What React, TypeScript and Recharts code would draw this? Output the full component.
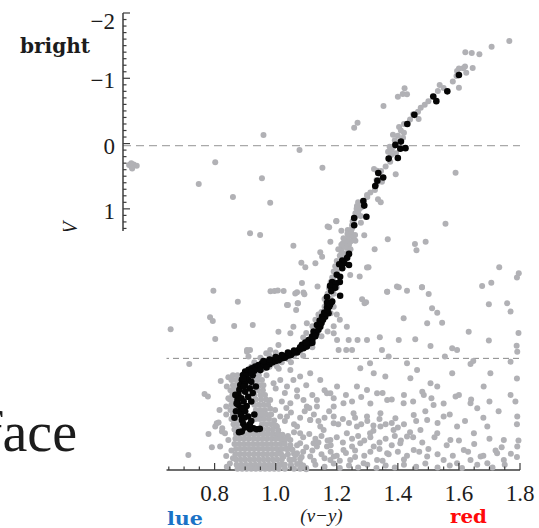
import React from 'react';
import { ScatterChart, Scatter, XAxis, YAxis, ReferenceLine } from 'recharts';

type P = [number, number];

const xTicks = [0.5, 0.55, 0.6, 0.65, 0.7, 0.75, 0.8, 0.85, 0.9, 0.95, 1.0, 1.05, 1.1, 1.15, 1.2, 1.25, 1.3, 1.35, 1.4, 1.45, 1.5, 1.55, 1.6, 1.65, 1.7, 1.75, 1.8];
const yTicks = [
  -2, -1.9, -1.8, -1.7, -1.6, -1.5, -1.4, -1.3, -1.2, -1.1,
  -1, -0.9, -0.8, -0.7, -0.6, -0.5, -0.4, -0.3, -0.2, -0.1,
  0, 0.1, 0.2, 0.3, 0.4, 0.5, 0.6, 0.7, 0.8, 0.9,
  1, 1.1, 1.2, 1.3, 1.4, 1.5, 1.6, 1.7, 1.8, 1.9,
  2, 2.1, 2.2, 2.3, 2.4, 2.5, 2.6, 2.7, 2.8, 2.9,
  3, 3.1, 3.2, 3.3, 3.4, 3.5, 3.6, 3.7, 3.8, 3.9,
  4, 4.1, 4.2, 4.3, 4.4, 4.5, 4.6, 4.7, 4.8, 4.9, 5,
];
const refLevels = [0.03, 3.29];

const blackGiant: P[] = [
  [1.600, -1.05], [1.562, -0.80], [1.516, -0.72], [1.526, -0.65], [1.454, -0.44], [1.431, -0.30],
  [1.392, 0.02], [1.410, -0.03], [1.408, 0.08], [1.425, 0.07], [1.370, 0.23], [1.400, 0.22],
  [1.336, 0.45], [1.333, 0.57], [1.352, 0.52], [1.326, 0.65], [1.287, 0.88], [1.290, 0.95],
  [1.257, 1.14], [1.297, 1.12], [1.257, 1.25], [1.240, 1.69], [1.234, 1.75], [1.218, 1.79],
  [1.225, 1.83], [1.208, 1.85], [1.240, 1.86], [1.218, 1.91], [1.200, 2.01], [1.211, 2.04],
  [1.185, 2.12], [1.178, 2.18], [1.198, 2.14], [1.210, 2.12], [1.195, 2.21], [1.182, 2.26],
  [1.211, 2.33], [1.168, 2.35], [1.168, 2.44], [1.178, 2.47], [1.185, 2.42],
];

const blackTurnoff: P[] = [
  [1.181, 2.436], [1.168, 2.507], [1.159, 2.590], [1.152, 2.651], [1.144, 2.712], [1.162, 2.651],
  [1.173, 2.599], [1.135, 2.778], [1.146, 2.804], [1.124, 2.881], [1.133, 2.905], [1.119, 2.957],
  [1.108, 3.008], [1.097, 3.049], [1.113, 3.058], [1.102, 3.110], [1.086, 3.084], [1.091, 3.135],
  [1.075, 3.161], [1.064, 3.187], [1.053, 3.211], [1.042, 3.222], [1.031, 3.253], [1.020, 3.273],
  [1.009, 3.288], [0.998, 3.303], [0.988, 3.325], [0.976, 3.340], [0.966, 3.365], [0.955, 3.365],
  [0.944, 3.391], [0.933, 3.417], [0.922, 3.441], [0.911, 3.467], [0.900, 3.493], [0.893, 3.544],
  [0.889, 3.620], [0.884, 3.697], [0.881, 3.773], [0.878, 3.850], [0.875, 3.926], [0.878, 4.003],
  [0.884, 4.080], [0.886, 4.156], [0.889, 4.233], [0.894, 4.294], [0.906, 4.335], [0.916, 4.375],
  [0.927, 4.360], [0.938, 4.375], [0.889, 4.412],
  [0.905, 3.55], [0.91, 3.62], [0.90, 3.68], [0.915, 3.75], [0.90, 3.80], [0.91, 3.88], [0.895, 3.95],
  [0.905, 4.02], [0.90, 4.10], [0.91, 4.18], [0.92, 4.25], [0.868, 3.85], [0.872, 3.98], [0.87, 4.10],
  [0.893, 3.60], [0.896, 3.72], [0.888, 3.90], [0.892, 4.05], [0.897, 4.20], [0.915, 4.30], [0.925, 3.55],
  [0.92, 3.65], [0.925, 3.82], [0.92, 3.95], [0.93, 4.15], [0.90, 4.35], [0.948, 4.37], [0.88, 4.42],
  [0.935, 3.72], [0.865, 4.20],
  [0.94, 3.45], [0.95, 3.42], [0.96, 3.40], [0.97, 3.37], [0.98, 3.38], [0.99, 3.35], [1.00, 3.33],
  [1.01, 3.32], [1.02, 3.29], [1.03, 3.28], [1.04, 3.25], [1.05, 3.24], [1.06, 3.20], [1.07, 3.20],
  [1.08, 3.15], [1.09, 3.10], [0.96, 3.33], [0.98, 3.31], [1.00, 3.27], [1.02, 3.24], [1.04, 3.20],
  [1.06, 3.17], [1.08, 3.12], [0.93, 3.48], [0.95, 3.47], [0.97, 3.43], [0.92, 3.50], [1.10, 3.05],
  [1.12, 3.00], [1.13, 2.95], [1.14, 2.85], [1.15, 2.75], [1.155, 2.70], [1.165, 2.60], [1.17, 2.55],
  [1.175, 2.50], [1.12, 3.05],
];

const grayGiant: P[] = [
  [1.765, -1.571], [1.707, -1.484], [1.621, -1.398], [1.642, -1.387], [1.667, -1.367], [1.614, -1.153],
  [1.594, -1.112], [1.645, -1.158], [1.624, -1.086], [1.592, -1.035], [1.600, -0.856], [1.537, -0.897],
  [1.531, -0.806], [1.488, -0.596], [1.466, -0.489], [1.468, -0.377], [1.422, -0.847], [1.416, -0.760],
  [1.430, -0.755], [1.400, -0.718], [1.353, -0.576], [1.268, -0.320], [1.257, -0.243], [1.404, -0.254],
  [1.384, -0.136], [1.420, -0.167], [1.417, -0.090], [1.373, 0.048], [1.368, 0.124], [1.378, 0.175],
  [1.394, 0.149], [1.078, 0.098], [1.153, 0.369], [1.393, 0.470], [1.589, 0.446], [1.322, 0.389],
  [1.332, 0.415], [1.345, 0.419], [1.330, 0.557], [1.348, 0.583], [1.325, 0.711], [1.299, 0.787],
  [1.335, 0.853], [1.344, 0.899], [1.279, 0.910], [1.266, 0.956], [1.273, 1.006], [1.261, 1.068],
  [1.278, 1.109], [1.252, 1.190], [1.170, 1.272], [1.198, 1.190], [1.215, 1.334], [1.236, 1.323],
  [1.248, 1.374], [1.279, 1.211], [1.290, 1.404], [1.556, 1.227], [1.058, 1.564], [1.179, 1.502],
  [1.367, 1.466], [1.456, 1.538], [1.491, 1.502], [1.461, 1.634], [1.324, 1.619], [1.232, 1.476],
  [1.220, 1.527], [1.217, 1.604], [1.239, 1.619], [1.261, 1.487], [0.982, 0.905],
  [0.960, -0.132], [0.802, 0.286], [0.955, 0.532], [0.748, 0.619], [0.860, 0.818], [0.916, 1.374],
  [0.949, 1.400],
  [0.520, 0.33], [0.528, 0.36], [0.535, 0.32], [0.545, 0.34], [0.527, 0.30], [0.530, 0.38],
  [1.084, 1.824], [1.097, 1.895], [1.130, 1.833], [1.152, 1.732], [1.146, 1.665], [1.086, 2.135],
  [1.137, 2.191], [0.983, 2.262], [0.996, 2.257], [1.007, 2.252], [1.064, 2.298], [1.094, 2.308],
  [1.040, 2.472], [1.073, 2.446], [1.175, 1.282], [1.199, 1.185], [1.403, 2.201], [1.365, 2.268],
  [1.479, 2.201], [1.299, 1.900], [1.244, 2.012], [1.275, 2.038], [1.291, 2.446],
  [1.25, 1.30], [1.26, 1.40], [1.255, 1.45], [1.245, 1.50], [1.24, 1.55], [1.235, 1.60], [1.245, 1.62],
  [1.23, 1.68], [1.22, 1.72], [1.255, 1.20], [1.27, 1.05], [1.28, 0.98], [1.30, 0.82], [1.31, 0.75],
  [1.33, 0.62], [1.34, 0.55], [1.36, 0.35], [1.375, 0.28], [1.38, 0.10], [1.385, 0.05], [1.39, -0.05],
  [1.40, -0.12], [1.41, -0.20], [1.42, -0.30], [1.44, -0.37], [1.45, -0.45], [1.475, -0.55], [1.50, -0.65],
  [1.55, -0.85], [1.58, -0.95], [1.60, -1.15], [1.62, -1.18], [1.20, 1.95], [1.19, 2.05], [1.20, 2.20],
  [1.19, 2.30], [1.18, 2.38], [1.17, 2.40], [1.16, 2.50], [1.15, 2.58], [1.14, 2.62], [1.13, 2.70],
  [1.12, 2.80], [1.10, 2.90], [1.09, 2.97],
  [1.27, 0.90], [1.265, 1.00], [1.26, 1.12], [1.25, 1.25], [1.245, 1.35], [1.24, 1.42], [1.23, 1.50],
  [1.225, 1.58], [1.215, 1.65], [1.21, 1.72], [1.20, 1.80], [1.195, 1.88], [1.19, 1.96], [1.185, 2.05],
  [1.18, 2.12], [1.175, 2.22], [1.17, 2.30], [1.16, 2.38], [1.235, 1.38], [1.222, 1.45], [1.215, 1.55],
  [1.205, 1.62],
  [1.17, 2.55], [1.16, 2.65], [1.18, 2.60], [1.15, 2.75], [1.14, 2.82], [1.13, 2.90], [1.11, 3.00],
  [1.10, 3.08], [1.08, 3.18], [1.06, 3.25], [1.04, 3.30], [1.02, 3.35], [1.00, 3.38], [0.98, 3.42],
  [0.96, 3.45], [0.94, 3.50], [0.98, 3.25], [1.00, 3.20], [0.95, 3.28], [0.93, 3.35], [0.92, 3.42],
  [1.19, 2.50], [1.20, 2.62], [1.21, 2.70], [1.19, 2.80], [1.17, 2.88], [1.15, 2.95], [1.12, 3.12],
  [1.09, 3.25], [1.05, 3.35], [1.01, 3.45], [0.97, 3.55],
];

const grayTurnoff: P[] = [
  [0.845, 3.58], [0.84, 3.72], [0.845, 3.90], [0.838, 4.15],
  [0.86, 3.55], [0.875, 3.55], [0.93, 3.55], [0.945, 3.55],
  [0.855, 3.62], [0.87, 3.62], [0.925, 3.62], [0.94, 3.62], [0.955, 3.62],
  [0.86, 3.70], [0.872, 3.70], [0.93, 3.70], [0.948, 3.70], [0.96, 3.70],
  [0.852, 3.78], [0.866, 3.78], [0.928, 3.78], [0.942, 3.78], [0.958, 3.78],
  [0.858, 3.85], [0.93, 3.85], [0.95, 3.85], [0.965, 3.85],
  [0.85, 3.92], [0.862, 3.92], [0.935, 3.92], [0.952, 3.92], [0.968, 3.92],
  [0.855, 4.00], [0.867, 4.00], [0.93, 4.00], [0.945, 4.00], [0.96, 4.00], [0.975, 4.00],
  [0.852, 4.08], [0.865, 4.08], [0.935, 4.08], [0.95, 4.08], [0.965, 4.08], [0.982, 4.06],
  [0.86, 4.15], [0.872, 4.15], [0.94, 4.15], [0.955, 4.15], [0.97, 4.15], [0.985, 4.15],
  [0.855, 4.22], [0.868, 4.22], [0.935, 4.22], [0.948, 4.22], [0.962, 4.22], [0.978, 4.22], [0.995, 4.24],
  [0.862, 4.30], [0.875, 4.30], [0.955, 4.30], [0.97, 4.30], [0.985, 4.30], [1.0, 4.32],
  [0.865, 4.38], [0.878, 4.38], [0.893, 4.38], [0.96, 4.38], [0.975, 4.38], [0.99, 4.38], [1.008, 4.39],
  [0.87, 4.45], [0.885, 4.45], [0.90, 4.45], [0.915, 4.45], [0.93, 4.45], [0.945, 4.45], [0.96, 4.45],
  [0.975, 4.45], [0.99, 4.45], [1.005, 4.45], [1.022, 4.46],
  [0.868, 4.52], [0.882, 4.52], [0.897, 4.52], [0.912, 4.52], [0.928, 4.52], [0.943, 4.52], [0.958, 4.52],
  [0.972, 4.52], [0.987, 4.52], [1.00, 4.52], [1.015, 4.52], [1.032, 4.53],
  [0.865, 4.60], [0.88, 4.60], [0.895, 4.60], [0.91, 4.60], [0.925, 4.60], [0.94, 4.60], [0.955, 4.60],
  [0.97, 4.60], [0.985, 4.60], [1.00, 4.60], [1.015, 4.60], [1.03, 4.60], [1.048, 4.62],
  [0.87, 4.68], [0.885, 4.68], [0.90, 4.68], [0.915, 4.68], [0.93, 4.68], [0.945, 4.68], [0.96, 4.68],
  [0.975, 4.68], [0.99, 4.68], [1.005, 4.68], [1.02, 4.68], [1.035, 4.68], [1.055, 4.69],
  [0.868, 4.76], [0.882, 4.76], [0.897, 4.76], [0.912, 4.76], [0.928, 4.76], [0.943, 4.76], [0.958, 4.76],
  [0.972, 4.76], [0.987, 4.76], [1.002, 4.76], [1.018, 4.76], [1.04, 4.76], [1.065, 4.77],
  [0.87, 4.84], [0.885, 4.84], [0.90, 4.84], [0.915, 4.84], [0.93, 4.84], [0.945, 4.84], [0.96, 4.84],
  [0.975, 4.84], [0.99, 4.84], [1.005, 4.84], [1.02, 4.84], [1.045, 4.84], [1.06, 4.84], [1.08, 4.83],
  [0.872, 4.92], [0.887, 4.92], [0.902, 4.92], [0.918, 4.92], [0.933, 4.92], [0.948, 4.92], [0.963, 4.92],
  [0.978, 4.92], [0.993, 4.92], [1.01, 4.92], [1.03, 4.92], [1.05, 4.92], [1.07, 4.91], [1.09, 4.93],
  [0.875, 4.98], [0.89, 4.98], [0.905, 4.98], [0.92, 4.98], [0.935, 4.98], [0.95, 4.98], [0.965, 4.98],
  [0.98, 4.98], [0.995, 4.98], [1.01, 4.98], [1.03, 4.98], [1.06, 4.98], [1.08, 4.98], [1.10, 4.99],
  [0.85, 4.90], [0.84, 4.95], [0.855, 4.70], [0.86, 4.82],
];

const grayField: P[] = [
  [0.796, 2.253], [0.876, 2.421], [0.656, 2.844], [0.785, 2.660], [0.794, 2.717], [0.864, 2.793],
  [0.925, 2.778], [0.802, 2.992], [0.717, 3.375], [0.767, 3.835], [0.778, 3.876], [0.838, 4.029],
  [0.813, 4.274], [0.825, 4.360], [0.780, 4.447], [0.818, 4.641], [0.714, 4.769], [0.906, 3.161],
  [0.820, 3.636], [0.816, 4.080], [0.802, 4.335], [0.824, 4.412], [0.791, 4.651], [0.807, 4.284],
  [0.834, 4.437], [0.845, 4.539], [0.838, 4.784],
  [1.072, 2.446], [1.037, 2.472], [1.067, 2.548], [1.058, 2.804], [1.102, 2.752], [1.009, 2.881],
  [1.048, 2.905], [0.906, 3.187], [0.916, 3.161], [0.911, 3.263], [1.009, 3.084], [0.982, 3.161],
  [0.969, 3.211], [1.190, 2.905], [1.201, 3.008], [1.206, 3.161],
  [1.304, 1.895], [1.732, 1.895], [1.796, 1.986], [1.706, 2.130], [1.676, 2.181], [1.479, 2.201],
  [1.501, 2.303], [1.397, 2.191], [1.365, 2.268], [1.430, 2.253], [1.091, 2.283], [1.070, 2.277],
  [1.026, 2.257], [1.283, 2.385], [1.296, 2.430], [1.512, 2.522], [1.529, 2.590], [1.545, 2.743],
  [1.698, 2.461], [1.758, 2.446], [1.769, 2.574], [1.419, 2.676], [1.496, 2.752], [1.632, 2.881],
  [1.698, 3.018], [1.789, 3.095], [1.233, 2.804], [1.239, 3.008], [1.268, 3.008], [1.231, 3.161],
  [1.250, 3.161], [1.299, 3.008], [1.341, 2.967], [1.403, 3.008], [1.457, 2.997], [1.507, 3.100],
  [1.578, 3.135], [1.554, 3.263], [1.594, 3.161], [1.638, 3.375], [1.647, 3.329], [1.703, 3.518],
  [1.769, 3.340], [1.791, 3.187], [1.348, 3.161], [1.370, 3.263], [1.309, 3.365], [1.277, 3.441],
  [1.321, 3.518], [1.359, 3.569], [1.430, 3.365], [1.463, 3.467], [1.441, 3.594], [1.507, 3.671],
  [1.529, 3.722], [1.578, 3.518], [1.589, 3.876], [1.681, 3.722], [1.638, 3.977], [1.660, 4.053],
  [1.769, 3.850], [1.791, 4.182], [1.485, 3.850], [1.517, 4.003], [1.419, 3.977], [1.365, 3.926],
  [1.332, 3.824], [1.299, 3.773], [1.266, 3.722], [1.201, 3.722], [1.179, 3.824], [1.146, 3.620],
  [1.113, 3.518], [1.080, 3.569], [1.048, 3.467], [1.015, 3.620], [1.091, 3.926], [1.048, 3.977],
  [1.135, 4.029], [1.222, 3.977], [1.255, 4.131], [1.299, 4.182], [1.343, 4.131], [1.392, 4.207],
  [1.452, 4.156], [1.496, 4.233], [1.550, 4.182], [1.594, 4.335], [1.649, 4.437], [1.693, 4.335],
  [1.747, 4.539], [1.791, 4.641], [1.725, 4.743], [1.671, 4.794], [1.616, 4.692], [1.572, 4.539],
  [1.529, 4.437], [1.474, 4.386], [1.430, 4.488], [1.386, 4.386], [1.343, 4.335], [1.309, 4.437],
  [1.266, 4.335], [1.233, 4.437], [1.190, 4.284], [1.157, 4.386], [1.113, 4.233], [1.070, 4.335],
  [1.037, 4.182], [1.004, 4.335], [1.026, 4.539], [1.080, 4.590], [1.135, 4.641], [1.179, 4.539],
  [1.222, 4.692], [1.277, 4.590], [1.321, 4.641], [1.365, 4.743], [1.408, 4.590], [1.452, 4.692],
  [1.496, 4.794], [1.550, 4.845], [1.594, 4.896], [1.638, 4.845], [1.693, 4.896], [1.747, 4.845],
  [1.244, 4.845], [1.288, 4.896], [1.332, 4.845], [1.179, 4.845], [1.113, 4.794], [1.048, 4.845],
  [1.004, 3.416], [0.993, 3.671], [0.982, 3.926], [0.998, 4.080], [1.015, 4.182], [1.037, 3.722],
  [1.058, 3.620], [1.070, 3.876], [1.102, 4.029], [1.135, 3.926], [1.168, 3.824], [1.190, 4.029],
  [1.113, 4.233], [1.146, 4.335], [1.080, 4.437], [1.048, 4.539], [1.124, 4.590], [1.168, 4.641],
  [1.070, 4.743], [1.026, 4.794], [1.190, 4.794],
  [1.79, 2.05], [1.795, 2.90], [1.79, 3.60], [1.785, 3.95], [1.79, 4.30], [1.795, 4.55], [1.79, 4.80],
  [1.02, 3.95], [1.035, 4.05], [1.05, 4.12], [1.03, 4.25], [1.06, 4.30], [1.08, 4.20], [1.095, 4.10],
  [1.11, 4.05], [1.125, 4.15], [1.14, 4.25], [1.16, 4.20], [1.175, 4.10], [1.19, 4.18], [1.205, 4.30],
  [1.22, 4.22], [1.24, 4.28], [1.26, 4.20], [1.28, 4.30], [1.30, 4.25], [1.32, 4.32], [1.34, 4.22],
  [1.36, 4.30], [1.38, 4.28], [1.40, 4.35], [1.42, 4.30], [1.44, 4.42],
  [1.01, 4.45], [1.04, 4.48], [1.06, 4.42], [1.09, 4.50], [1.11, 4.45], [1.13, 4.52], [1.15, 4.48],
  [1.17, 4.55], [1.20, 4.50], [1.22, 4.58], [1.25, 4.52], [1.27, 4.48], [1.29, 4.55], [1.31, 4.50],
  [1.34, 4.58], [1.36, 4.52], [1.39, 4.48], [1.41, 4.55], [1.45, 4.50], [1.48, 4.58], [1.52, 4.50],
  [1.56, 4.62], [1.60, 4.55], [1.65, 4.60], [1.70, 4.52], [1.74, 4.65],
  [1.01, 4.70], [1.04, 4.68], [1.06, 4.75], [1.09, 4.72], [1.12, 4.70], [1.15, 4.76], [1.18, 4.72],
  [1.20, 4.78], [1.23, 4.74], [1.26, 4.70], [1.29, 4.78], [1.31, 4.72], [1.34, 4.68], [1.37, 4.76],
  [1.40, 4.72], [1.43, 4.78], [1.47, 4.72], [1.50, 4.68], [1.53, 4.76], [1.58, 4.78], [1.63, 4.72],
  [1.68, 4.78], [1.72, 4.70], [1.77, 4.75],
  [1.02, 4.92], [1.05, 4.95], [1.08, 4.90], [1.10, 4.97], [1.13, 4.92], [1.16, 4.95], [1.19, 4.90],
  [1.21, 4.97], [1.24, 4.93], [1.27, 4.96], [1.30, 4.92], [1.33, 4.97], [1.36, 4.93], [1.39, 4.96],
  [1.42, 4.92], [1.46, 4.95], [1.49, 4.90], [1.53, 4.96], [1.57, 4.93], [1.61, 4.97], [1.66, 4.92],
  [1.71, 4.96], [1.75, 4.92],
  [1.00, 3.75], [1.03, 3.82], [1.07, 3.78], [1.10, 3.70], [1.12, 3.85], [1.16, 3.78], [1.19, 3.90],
  [1.23, 3.85], [1.25, 3.95], [1.28, 3.88], [1.31, 3.98], [1.35, 3.82], [1.38, 3.92], [1.42, 3.85],
  [1.45, 3.95], [1.48, 3.80], [1.51, 3.90], [1.55, 3.98], [1.60, 3.85], [1.64, 3.92], [1.70, 3.95],
  [1.73, 4.10], [1.68, 4.20], [1.62, 4.25], [1.57, 4.15], [1.53, 4.28], [1.49, 4.10], [1.46, 4.25],
  [1.07, 4.62], [1.10, 4.65], [1.14, 4.58], [1.085, 4.80], [1.125, 4.86], [1.16, 4.82], [1.21, 4.86],
  [1.26, 4.80], [1.35, 4.86], [1.42, 4.84], [1.18, 4.62], [1.25, 4.64], [1.32, 4.40], [1.38, 4.62],
];

const AXIS = '#3c3c3c';
const TXT = '#1c1c1c';
const SERIF = 'Liberation Serif, serif';
const WIDE = 'DejaVu Serif, serif';

const toObj = (a: P[]) => a.map(([x, y]) => ({ x, y }));
const onStep = (v: number, step: number) => Math.abs(v / step - Math.round(v / step)) < 1e-6;
const fmtY = (v: number) => (v < 0 ? '\u2212' + Math.abs(v) : String(v));

function BottomTick(props: any) {
  const { x, y, payload } = props;
  const v = payload.value as number;
  const major = onStep(v, 0.2);
  return (
    <g>
      <line x1={x} y1={y} x2={x} y2={y - (major ? 7 : 3.5)} stroke={AXIS} strokeWidth={1.2} />
      {major && v > 0.7 ? (
        <text x={x} y={y + 31} textAnchor="middle" style={{ fontFamily: SERIF, fontSize: 23 }} fill={TXT}>
          {v.toFixed(1)}
        </text>
      ) : null}
    </g>
  );
}

function TopTick(props: any) {
  const { x, y, payload } = props;
  const major = onStep(payload.value as number, 0.2);
  return <line x1={x} y1={y} x2={x} y2={y + (major ? 7 : 3.5)} stroke={AXIS} strokeWidth={1.2} />;
}

function LeftTick(props: any) {
  const { x, y, payload } = props;
  const v = payload.value as number;
  const major = onStep(v, 1);
  return (
    <g>
      <line x1={x} y1={y} x2={x + (major ? 7 : 3.5)} y2={y} stroke={AXIS} strokeWidth={1.2} />
      {major && v <= 1 ? (
        <text x={x - 8} y={y + (v === -2 ? 16 : 10)} textAnchor="end" style={{ fontFamily: SERIF, fontSize: 23 }} fill={TXT}>
          {fmtY(v)}
        </text>
      ) : null}
    </g>
  );
}

function RightTick(props: any) {
  const { x, y, payload } = props;
  const major = onStep(payload.value as number, 1);
  return <line x1={x} y1={y} x2={x - (major ? 7 : 3.5)} y2={y} stroke={AXIS} strokeWidth={1.2} />;
}

const GrayDot = (p: any) => <circle cx={p.cx} cy={p.cy} r={3} fill="#b1b1b5" />;
const BlackDot = (p: any) => <circle cx={p.cx} cy={p.cy} r={3.3} fill="#050505" />;

export default function App() {
  const gray = [...toObj(grayField), ...toObj(grayTurnoff), ...toObj(grayGiant)];
  const black = [...toObj(blackTurnoff), ...toObj(blackGiant)];
  const axisLine = { stroke: AXIS, strokeWidth: 1.5 };
  return (
    <div style={{ position: 'absolute', left: 0, top: 0, width: 539, height: 528, background: '#fff', overflow: 'hidden' }}>
      <ScatterChart width={539} height={528} margin={{ top: 13, right: 19, bottom: 0, left: 0 }}>
        <XAxis xAxisId="b" type="number" dataKey="x" domain={[0.5, 1.8]} ticks={xTicks} interval={0}
          orientation="bottom" height={58} tickSize={0} tickMargin={0} tickLine={false}
          tick={<BottomTick />} axisLine={axisLine} />
        <XAxis xAxisId="t" type="number" dataKey="x" domain={[0.5, 1.8]} ticks={xTicks} interval={0}
          orientation="top" height={0} tickSize={0} tickMargin={0} tickLine={false}
          tick={<TopTick />} axisLine={axisLine} />
        <YAxis yAxisId="l" type="number" dataKey="y" domain={[-2, 5]} reversed ticks={yTicks} interval={0}
          orientation="left" width={123} tickSize={0} tickMargin={0} tickLine={false}
          tick={<LeftTick />} axisLine={axisLine} />
        <YAxis yAxisId="r" type="number" dataKey="y" domain={[-2, 5]} reversed ticks={yTicks} interval={0}
          orientation="right" width={0} tickSize={0} tickMargin={0} tickLine={false}
          tick={<RightTick />} axisLine={axisLine} />
        <ReferenceLine xAxisId="b" yAxisId="l" y={refLevels[0]} stroke="#a9a9a9" strokeWidth={1.3} strokeDasharray="8 5" />
        <ReferenceLine xAxisId="b" yAxisId="l" y={refLevels[1]} stroke="#7a7a7a" strokeWidth={0.9} strokeDasharray="6 4" />
        <Scatter xAxisId="b" yAxisId="l" data={gray} shape={GrayDot} isAnimationActive={false} />
        <Scatter xAxisId="b" yAxisId="l" data={black} shape={BlackDot} isAnimationActive={false} />
      </ScatterChart>
      <svg width={539} height={528} style={{ position: 'absolute', left: 0, top: 0, pointerEvents: 'none' }}>
        <text x={77} y={228} transform="rotate(-90 77 228)" textAnchor="middle"
          style={{ fontFamily: SERIF, fontStyle: 'italic', fontSize: 20 }} fill={TXT}>V</text>
        <rect x={0} y={231} width={166.5} height={297} fill="#ffffff" />
        <text x={77} y={451} textAnchor="end" style={{ fontFamily: SERIF, fontSize: 56 }} fill={TXT}>face</text>
        <text x={20} y={53} style={{ fontFamily: WIDE, fontWeight: 'bold', fontSize: 20 }} textLength={70}
          lengthAdjust="spacingAndGlyphs" fill={TXT}>bright</text>
        <text x={167} y={525} style={{ fontFamily: WIDE, fontWeight: 'bold', fontSize: 18 }} textLength={36}
          lengthAdjust="spacingAndGlyphs" fill="#1a72c6">lue</text>
        <text x={450} y={523} style={{ fontFamily: WIDE, fontWeight: 'bold', fontSize: 18 }} textLength={37}
          lengthAdjust="spacingAndGlyphs" fill="#ff0a0a">red</text>
        <text x={321.5} y={522} textAnchor="middle" style={{ fontFamily: SERIF, fontStyle: 'italic', fontSize: 19 }}
          fill={TXT}>(v{'\u2212'}y)</text>
      </svg>
    </div>
  );
}
